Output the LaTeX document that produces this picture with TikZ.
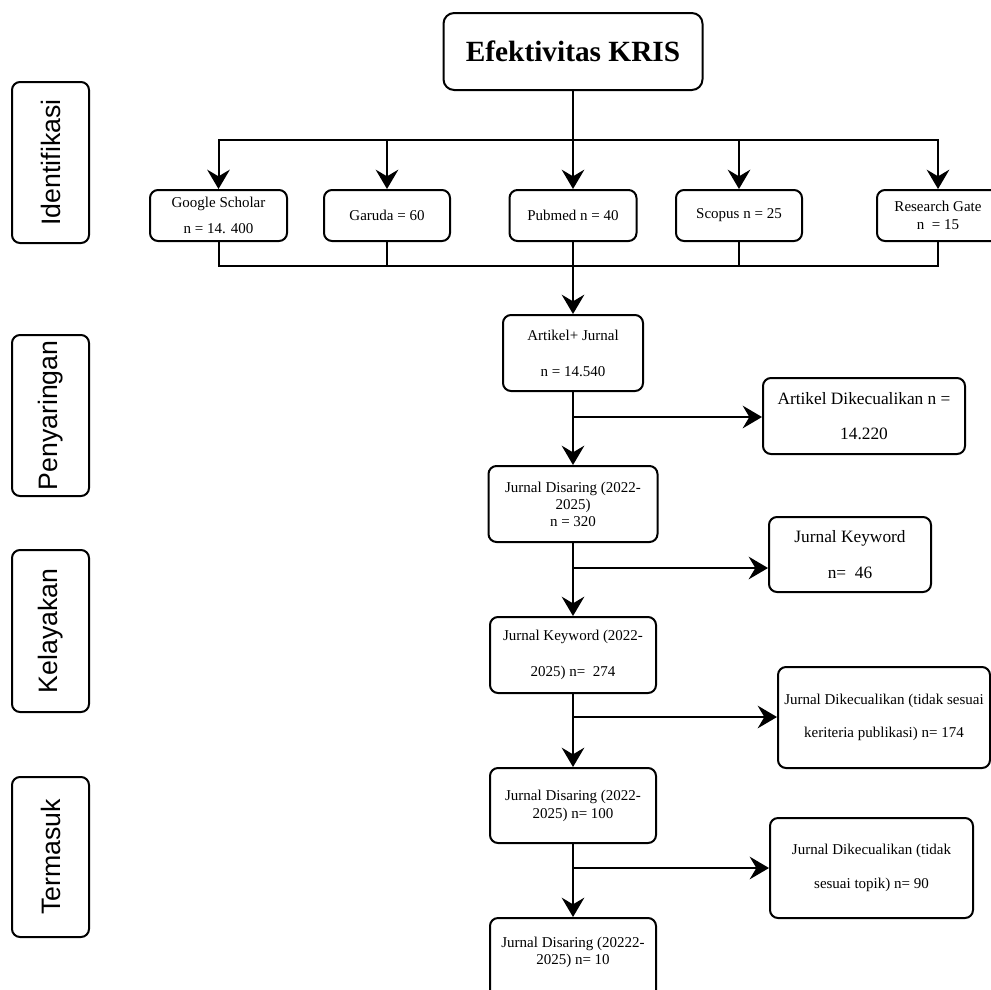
\documentclass[tikz,border=0pt]{standalone}
\usepackage{fontspec}
\setmainfont{Liberation Serif}
\setsansfont{Liberation Sans}
\usetikzlibrary{arrows.meta}
\tikzset{
  box/.style={draw, line width=1.5pt, rounded corners=6pt, align=center, inner sep=1pt, font=\fontsize{11.25}{13.5}\selectfont},
  wide/.style={font=\fontsize{11.25}{27}\selectfont},
  big/.style={font=\fontsize{13}{26.5}\selectfont},
  side/.style={draw, line width=1.5pt, rounded corners=6pt, rotate=90, minimum height=57.75pt, inner sep=0pt, font=\sffamily\fontsize{20}{24}\selectfont},
  line/.style={line width=1.5pt},
  arr/.style={line width=1.5pt, -{Stealth[length=14.5pt,width=17pt,inset=5pt]}}
}
\begin{document}
\begin{tikzpicture}[x=0.75pt,y=-0.75pt]
  \useasboundingbox (0,0) rectangle (991,989);
  \node[side, minimum width=120.75pt] (ident) at (50.5,162.5) {Identifikasi};
  \node[side, minimum width=120.75pt] (peny) at (50.5,415.5) {Penyaringan};
  \node[side, minimum width=121.5pt] (kelay) at (50.5,631) {Kelayakan};
  \node[side, minimum width=120pt] (term) at (50.5,857) {Termasuk};

  \node[box, rounded corners=8pt, minimum width=194.25pt, minimum height=57.75pt, font=\fontsize{22}{26}\selectfont\bfseries] (title) at (573,51.5) {Efektivitas KRIS};

  \node[box, minimum width=102.75pt, minimum height=38.25pt, font=\fontsize{11.25}{20}\selectfont] (gs) at (218.5,215.5) {Google Scholar\\n = 14. 400};
  \node[box, minimum width=94.5pt, minimum height=38.25pt] (garuda) at (387,215.5) {Garuda = 60};
  \node[box, minimum width=95.25pt, minimum height=38.25pt] (pubmed) at (573,215.5) {Pubmed n = 40};
  \node[box, minimum width=94.5pt, minimum height=38.25pt] (scopus) at (739,215.5) {Scopus n = 25};
  \node[box, minimum width=91.5pt, minimum height=38.25pt] (rg) at (938,215.5) {Research Gate\\n\ \ = 15};

  \node[box, wide, minimum width=105pt, minimum height=57pt] (artikel) at (573,353) {Artikel+ Jurnal\\n = 14.540};
  \node[box, big, minimum width=151.5pt, minimum height=57pt] (ad) at (864,416) {Artikel Dikecualikan n =\\14.220};
  \node[box, font=\fontsize{11.25}{12.75}\selectfont, minimum width=126.75pt, minimum height=57pt] (jd1) at (573,504) {Jurnal Disaring (2022-\\2025)\\n = 320};
  \node[box, big, minimum width=121.5pt, minimum height=56.25pt] (jkside) at (850,554.5) {Jurnal Keyword\\n=\ \ 46};
  \node[box, wide, minimum width=124.5pt, minimum height=57pt] (jkmain) at (573,655) {Jurnal Keyword (2022-\\2025) n=\ \ 274};
  \node[box, font=\fontsize{11.25}{25}\selectfont, minimum width=159pt, minimum height=75.75pt] (jdk1) at (884,717.5) {Jurnal Dikecualikan (tidak sesuai\\keriteria publikasi) n= 174};
  \node[box, minimum width=124.5pt, minimum height=56.25pt] (jd2) at (573,805.5) {Jurnal Disaring (2022-\\2025) n= 100};
  \node[box, font=\fontsize{11.25}{25.5}\selectfont, minimum width=152.25pt, minimum height=75pt] (jdk2) at (871.5,868) {Jurnal Dikecualikan (tidak\\sesuai topik) n= 90};
  \node[box, font=\fontsize{11.25}{12.75}\selectfont, minimum width=124.5pt, minimum height=61.5pt, text depth=12pt] (jd3) at (573,959) {Jurnal Disaring (20222-\\2025) n= 10};

  \coordinate (split) at (573,140);
  \coordinate (merge) at (573,266);
  \draw[line] (title) -- (split);
  \foreach \s in {gs,garuda,pubmed,scopus,rg}
    \draw[arr] (split) -| (\s.north);
  \foreach \s in {gs,garuda,pubmed,scopus,rg}
    \draw[line] (\s.south) |- (merge);
  \draw[arr] (merge) -- (artikel);

  \draw[arr] (artikel) -- (jd1);
  \draw[arr] (jd1) -- (jkmain);
  \draw[arr] (jkmain) -- (jd2);
  \draw[arr] (jd2) -- (jd3);

  \coordinate (b1) at (573,417);
  \coordinate (b2) at (573,568);
  \coordinate (b3) at (573,717);
  \coordinate (b4) at (573,868);
  \draw[arr] (b1) -- (b1 -| ad.west);
  \draw[arr] (b2) -- (b2 -| jkside.west);
  \draw[arr] (b3) -- (b3 -| jdk1.west);
  \draw[arr] (b4) -- (b4 -| jdk2.west);
\end{tikzpicture}
\end{document}
